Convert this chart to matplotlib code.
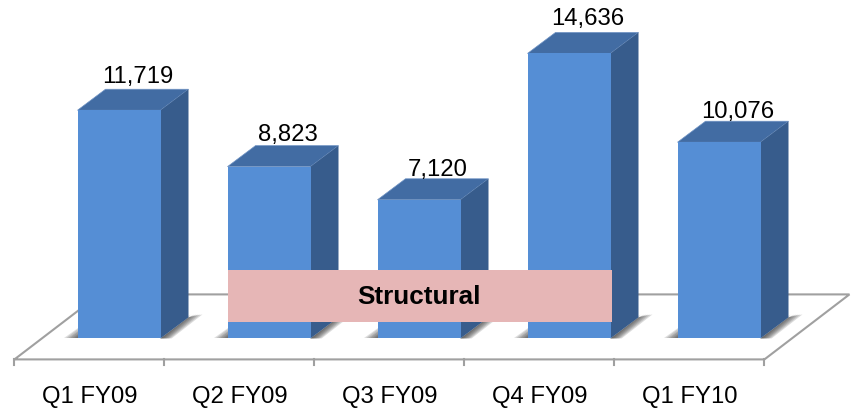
import matplotlib
matplotlib.use('Agg')
import matplotlib.pyplot as plt
from matplotlib.patches import Polygon, Rectangle

plt.rcParams['font.family'] = ['Liberation Sans', 'DejaVu Sans']

categories = ['Q1 FY09', 'Q2 FY09', 'Q3 FY09', 'Q4 FY09', 'Q1 FY10']
values = [11719, 8823, 7120, 14636, 10076]

# one category = 150 px, one px = 1 / 0.01947 units
X_PX = 1 / 150
Y_PX = 1 / 0.01947
BAR_W = 83 * X_PX
DX = 28 * X_PX
DY = 21 * Y_PX
FRONT = -21 * Y_PX
BACK = 44 * Y_PX
LEFT = -0.5 - 0.197
GRID = '#a0a0a0'


def box(ax, x, v):
    l, r = x - BAR_W / 2, x + BAR_W / 2
    ax.add_patch(Polygon([(l, v), (l + DX, v + DY), (r + DX, v + DY), (r, v)],
                         fc='#426ca3', ec='#6f93c4', lw=0.5, zorder=4))
    ax.add_patch(Polygon([(r, 0), (r + DX, DY), (r + DX, v + DY), (r, v)],
                         fc='#375c8c', ec='none', zorder=4))
    ax.add_patch(Rectangle((l, 0), BAR_W, v, fc='#558ed5', ec='none', zorder=5))


def shadow(ax, x):
    l, r = x - BAR_W / 2, x + BAR_W / 2
    n = 7
    for i in range(n):
        k = (n - i) * 2
        # wedge right of the side face
        ax.add_patch(Polygon([(r, 0), (r + k * 0.8 * X_PX, 0),
                              (r + DX + k * X_PX, DY + 3 * Y_PX), (r + DX, DY)],
                             fc='#303030', ec='none', alpha=0.17, zorder=2))
        # wedge left of the front face
        ax.add_patch(Polygon([(l - k * X_PX, 0), (l, 0), (l, (k + 1) * 0.7 * Y_PX)],
                             fc='#303030', ec='none', alpha=0.15, zorder=2))


fig = plt.figure(figsize=(8.56, 4.12), dpi=100)
ax = fig.add_axes([0, 0, 1, 1])
ax.set_xlim(-119 * X_PX, (856 - 119) * X_PX)
ax.set_ylim(-73.6 * Y_PX, 338.4 * Y_PX)
ax.axis('off')

# floor
n = len(categories)
right = LEFT + n
back_dx = 85 * X_PX
ax.plot([LEFT, LEFT + back_dx, right + back_dx, right, LEFT],
        [FRONT, BACK, BACK, FRONT, FRONT], color=GRID, lw=1.5, zorder=1,
        solid_joinstyle='miter')
for i in range(n + 1):
    ax.plot([LEFT + i, LEFT + i], [FRONT, FRONT - 6 * Y_PX], color=GRID, lw=1.5, zorder=1)

for i in range(n):
    shadow(ax, i)
for i, v in enumerate(values):
    box(ax, i, v)

label_gap = [6, 5, 3, 7, 3]
for i, v in enumerate(values):
    ax.text(i + 19 * X_PX, v + DY + label_gap[i] * Y_PX, f'{v:,}', ha='center', va='baseline',
            fontsize=17.2, color='black', zorder=6)
    ax.text(i - 29.5 * X_PX, -65 * Y_PX, categories[i], ha='center', va='baseline',
            fontsize=17.2, color='black', zorder=6)

# Structural band over Q2..Q4
ax.add_patch(Rectangle((1 - BAR_W / 2, 16 * Y_PX), 384 * X_PX, 52 * Y_PX,
                       fc='#e6b6b6', ec='none', zorder=7))
ax.text(1 - BAR_W / 2 + 191 * X_PX, 41 * Y_PX, 'Structural', ha='center', va='center',
        fontsize=18.8, fontweight='bold', color='black', zorder=8)

fig.savefig('out.png', dpi=100)
